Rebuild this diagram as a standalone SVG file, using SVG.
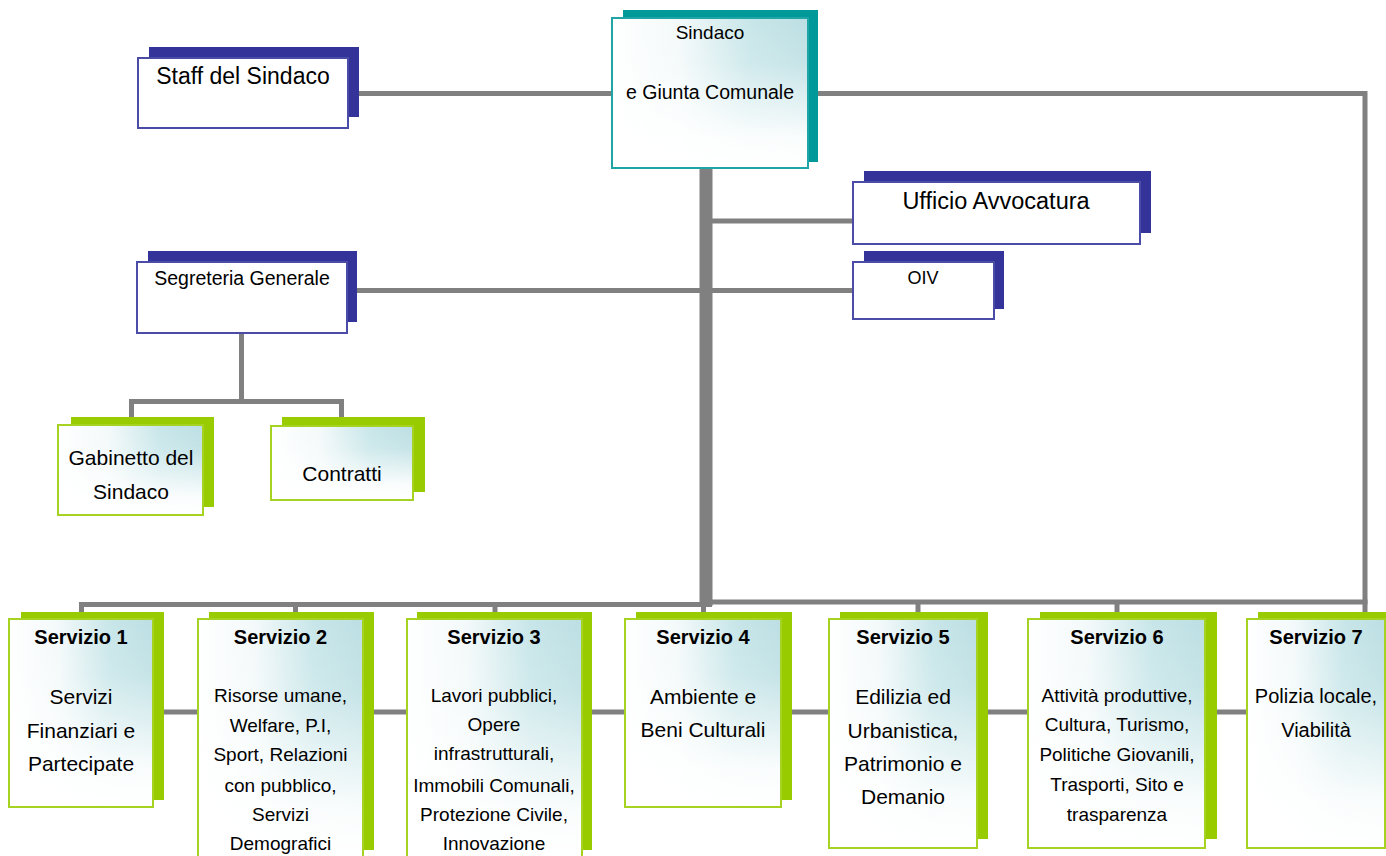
<svg xmlns="http://www.w3.org/2000/svg" width="1386" height="856" viewBox="0 0 1386 856">
<style>
.ln{stroke:#808080;stroke-width:5;fill:none}
.trunk{stroke:#808080;stroke-width:13;fill:none}
.shB{fill:#333399}
.frB{fill:#ffffff;stroke:#4b4ba8;stroke-width:2}
.shT{fill:#009999}
.frT{fill:url(#gx);stroke:#1fa5a5;stroke-width:2}
.shG{fill:#99cc00}
.frG{fill:url(#gx);stroke:#a6d322;stroke-width:2}
.ov{fill:url(#gy);stroke:none}
text{font-family:"Liberation Sans",Arial,sans-serif;fill:#000;text-anchor:middle}
.b{font-weight:bold;font-size:20px}
.s19{font-size:19px}
.s21{font-size:21px}
</style>
<defs>
<linearGradient id="gx" x1="0" y1="0" x2="1" y2="0">
<stop offset="0" stop-color="#ffffff"/>
<stop offset="0.35" stop-color="#f3f9fa"/>
<stop offset="0.7" stop-color="#c8e6e9"/>
<stop offset="1" stop-color="#bcdfe3"/>
</linearGradient>
<linearGradient id="gy" x1="0" y1="0" x2="0" y2="1">
<stop offset="0" stop-color="#ffffff" stop-opacity="0"/>
<stop offset="0.3" stop-color="#ffffff" stop-opacity="0.15"/>
<stop offset="0.8" stop-color="#ffffff" stop-opacity="0.92"/>
<stop offset="1" stop-color="#ffffff" stop-opacity="1"/>
</linearGradient>
</defs>

<g id="connectors">
<line class="ln" x1="355" y1="93.5" x2="615" y2="93.5"/>
<polyline class="ln" points="815,93.5 1365,93.5 1365,615"/>
<line class="trunk" x1="706" y1="168" x2="706" y2="606"/>
<line class="ln" x1="712" y1="221" x2="855" y2="221"/>
<line class="ln" x1="355" y1="290.5" x2="855" y2="290.5"/>
<line class="ln" x1="241.5" y1="332" x2="241.5" y2="401.5"/>
<polyline class="ln" points="131.5,418 131.5,401.5 341.5,401.5 341.5,418"/>
<line class="ln" x1="79" y1="604.5" x2="712" y2="604.5"/>
<line class="ln" x1="700" y1="602" x2="1367.5" y2="602"/>
<line class="ln" x1="81.5" y1="602" x2="81.5" y2="614"/>
<line class="ln" x1="295.5" y1="602" x2="295.5" y2="614"/>
<line class="ln" x1="495" y1="602" x2="495" y2="614"/>
<line class="ln" x1="703.5" y1="602" x2="703.5" y2="614"/>
<line class="ln" x1="918" y1="600" x2="918" y2="614"/>
<line class="ln" x1="1117" y1="600" x2="1117" y2="614"/>
<line class="ln" x1="160" y1="712" x2="200" y2="712"/>
<line class="ln" x1="370" y1="712" x2="409" y2="712"/>
<line class="ln" x1="588" y1="712" x2="627" y2="712"/>
<line class="ln" x1="788" y1="712" x2="831" y2="712"/>
<line class="ln" x1="984" y1="712" x2="1030" y2="712"/>
<line class="ln" x1="1212" y1="712" x2="1249" y2="712"/>
</g>

<g id="sindaco">
<rect class="shT" x="623" y="10" width="195" height="152"/>
<rect class="frT" x="612" y="18" width="196" height="150"/>
<rect class="ov" x="613" y="19" width="194" height="148"/>
<text x="710" y="39" style="font-size:19px">Sindaco</text>
<text x="710" y="99" style="font-size:19.5px">e Giunta Comunale</text>
</g>

<g id="staff">
<rect class="shB" x="149" y="47" width="210" height="70"/>
<rect class="frB" x="138" y="58" width="210" height="70"/>
<text x="243" y="84" style="font-size:23px">Staff del Sindaco</text>
</g>

<g id="ufficio-avvocatura">
<rect class="shB" x="864" y="171" width="287" height="62"/>
<rect class="frB" x="853" y="182" width="287" height="62"/>
<text x="996" y="209" style="font-size:23.5px">Ufficio Avvocatura</text>
</g>

<g id="oiv">
<rect class="shB" x="864" y="251" width="140" height="58"/>
<rect class="frB" x="853" y="262" width="141" height="57"/>
<text x="923" y="284" style="font-size:18px">OIV</text>
</g>

<g id="segreteria">
<rect class="shB" x="148" y="251" width="209" height="71"/>
<rect class="frB" x="137" y="262" width="210" height="71"/>
<text x="242" y="285" style="font-size:19.5px">Segreteria Generale</text>
</g>

<g id="gabinetto">
<rect class="shG" x="71" y="417" width="143" height="90"/>
<rect class="frG" x="58" y="425" width="145" height="90"/>
<rect class="ov" x="59" y="426" width="143" height="88"/>
<text class="s21" x="131" y="465">Gabinetto del</text>
<text class="s21" x="131" y="499">Sindaco</text>
</g>

<g id="contratti">
<rect class="shG" x="282" y="417" width="143" height="75"/>
<rect class="frG" x="271" y="426" width="142" height="74"/>
<rect class="ov" x="272" y="427" width="140" height="72"/>
<text class="s21" x="342" y="481">Contratti</text>
</g>

<g id="servizio1">
<rect class="shG" x="21" y="612" width="143" height="188"/>
<rect class="frG" x="9" y="619" width="144" height="188"/>
<rect class="ov" x="10" y="620" width="142" height="186"/>
<text class="b" x="81" y="644">Servizio 1</text>
<text class="s21" x="81" y="704">Servizi</text>
<text class="s21" x="81" y="738">Finanziari e</text>
<text class="s21" x="81" y="771">Partecipate</text>
</g>

<g id="servizio2">
<rect class="shG" x="209" y="612" width="165" height="238"/>
<rect class="frG" x="198" y="619" width="165" height="240"/>
<rect class="ov" x="199" y="620" width="163" height="238"/>
<text class="b" x="280.5" y="644">Servizio 2</text>
<text class="s19" x="280.5" y="702">Risorse umane,</text>
<text class="s19" x="280.5" y="732">Welfare, P.I,</text>
<text class="s19" x="280.5" y="761">Sport, Relazioni</text>
<text class="s19" x="280.5" y="792">con pubblico,</text>
<text class="s19" x="280.5" y="821">Servizi</text>
<text class="s19" x="280.5" y="850">Demografici</text>
</g>

<g id="servizio3">
<rect class="shG" x="417" y="612" width="175" height="238"/>
<rect class="frG" x="407" y="619" width="175" height="240"/>
<rect class="ov" x="408" y="620" width="173" height="238"/>
<text class="b" x="494" y="644">Servizio 3</text>
<text class="s19" x="494" y="702">Lavori pubblici,</text>
<text class="s19" x="494" y="731">Opere</text>
<text class="s19" x="494" y="760">infrastrutturali,</text>
<text class="s19" x="494" y="792">Immobili Comunali,</text>
<text class="s19" x="494" y="821">Protezione Civile,</text>
<text class="s19" x="494" y="850">Innovazione</text>
</g>

<g id="servizio4">
<rect class="shG" x="636" y="612" width="156" height="188"/>
<rect class="frG" x="625" y="619" width="156" height="188"/>
<rect class="ov" x="626" y="620" width="154" height="186"/>
<text class="b" x="703" y="644">Servizio 4</text>
<text class="s21" x="703" y="704">Ambiente e</text>
<text class="s21" x="703" y="737">Beni Culturali</text>
</g>

<g id="servizio5">
<rect class="shG" x="840" y="612" width="148" height="227"/>
<rect class="frG" x="829" y="619" width="148" height="229"/>
<rect class="ov" x="830" y="620" width="146" height="227"/>
<text class="b" x="903" y="644">Servizio 5</text>
<text class="s21" x="903" y="704">Edilizia ed</text>
<text class="s21" x="903" y="738">Urbanistica,</text>
<text class="s21" x="903" y="771">Patrimonio e</text>
<text class="s21" x="903" y="804">Demanio</text>
</g>

<g id="servizio6">
<rect class="shG" x="1040" y="612" width="177" height="227"/>
<rect class="frG" x="1028" y="619" width="177" height="229"/>
<rect class="ov" x="1029" y="620" width="175" height="227"/>
<text class="b" x="1117" y="644">Servizio 6</text>
<text class="s19" x="1117" y="702">Attività produttive,</text>
<text class="s19" x="1117" y="731">Cultura, Turismo,</text>
<text class="s19" x="1117" y="761">Politiche Giovanili,</text>
<text class="s19" x="1117" y="791">Trasporti, Sito e</text>
<text class="s19" x="1117" y="821">trasparenza</text>
</g>

<g id="servizio7">
<rect class="shG" x="1258" y="612" width="140" height="227"/>
<rect class="frG" x="1247" y="619" width="138" height="229"/>
<rect class="ov" x="1248" y="620" width="136" height="227"/>
<text class="b" x="1316" y="644">Servizio 7</text>
<text x="1316" y="703" style="font-size:20px">Polizia locale,</text>
<text x="1316" y="737" style="font-size:20px">Viabilità</text>
</g>
</svg>
